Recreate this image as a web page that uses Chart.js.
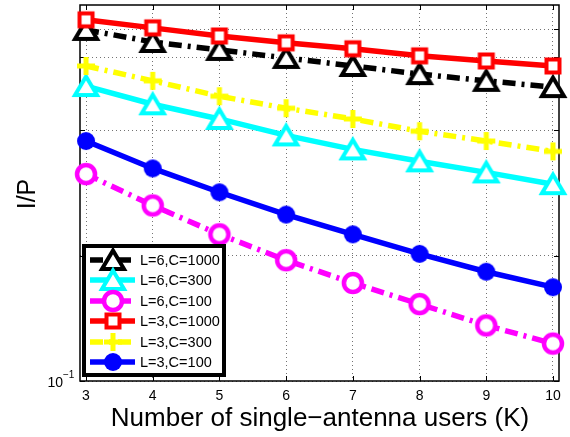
<!DOCTYPE html>
<html>
<head>
<meta charset="utf-8">
<script src="https://cdn.jsdelivr.net/npm/chart.js@4.4.0/dist/chart.umd.min.js"></script>
<style>
  html, body { margin: 0; padding: 0; background: #fff; }
</style>
</head>
<body>
<canvas id="c" width="570" height="437"></canvas>
<script>
// values
const users = [3, 4, 5, 6, 7, 8, 9, 10];
const names = ['L=6,C=1000', 'L=6,C=300', 'L=6,C=100', 'L=3,C=1000', 'L=3,C=300', 'L=3,C=100'];
const l6c1000 = [0.697, 0.652, 0.624, 0.597, 0.571, 0.546, 0.526, 0.508];
const l6c300 = [0.511, 0.462, 0.426, 0.389, 0.360, 0.337, 0.317, 0.297];
const l6c100 = [0.314, 0.264, 0.225, 0.195, 0.172, 0.153, 0.136, 0.123];
const l3c1000 = [0.737, 0.705, 0.674, 0.649, 0.628, 0.604, 0.587, 0.571];
const l3c300 = [0.571, 0.526, 0.483, 0.452, 0.426, 0.398, 0.377, 0.356];
const l3c100 = [0.377, 0.324, 0.284, 0.251, 0.225, 0.202, 0.183, 0.168];
const yTicks = [0.1, 0.2, 0.4, 0.6, 0.7];

const FONT = "'Liberation Sans', Arial, Helvetica, sans-serif";
const dashDot = [13, 6, 3, 6];

// matlab-like markers drawn on small canvases
function marker(kind, color) {
  const c = document.createElement('canvas');
  c.width = 40; c.height = 36;
  const g = c.getContext('2d');
  g.translate(20, 18);
  g.strokeStyle = color;
  g.fillStyle = color;
  g.lineJoin = 'miter';
  g.beginPath();
  if (kind === 'tri') {
    g.lineWidth = 4;
    g.moveTo(0, -9.5); g.lineTo(11, 9); g.lineTo(-11, 9); g.closePath();
    g.fillStyle = '#fff'; g.fill(); g.stroke();
  } else if (kind === 'square') {
    g.lineWidth = 4;
    g.rect(-6.5, -6.5, 13, 13);
    g.fillStyle = '#fff'; g.fill(); g.stroke();
  } else if (kind === 'circle') {
    g.lineWidth = 4.5;
    g.arc(0, 0, 9, 0, Math.PI * 2);
    g.fillStyle = '#fff'; g.fill(); g.stroke();
  } else if (kind === 'dot') {
    g.arc(0, 0, 9, 0, Math.PI * 2);
    g.fill();
  } else if (kind === 'plus') {
    g.lineWidth = 5;
    g.moveTo(-9, 0); g.lineTo(9, 0);
    g.moveTo(0, -9); g.lineTo(0, 9);
    g.stroke();
  }
  return c;
}

const series = [
  { data: l6c1000, color: '#000000', mk: 'tri', dash: dashDot },
  { data: l6c300, color: '#00ffff', mk: 'tri', dash: [] },
  { data: l6c100, color: '#ff00ff', mk: 'circle', dash: dashDot },
  { data: l3c1000, color: '#ff0000', mk: 'square', dash: [] },
  { data: l3c300, color: '#ffff00', mk: 'plus', dash: dashDot },
  { data: l3c100, color: '#0000ff', mk: 'dot', dash: [] }
];
series.forEach(s => s.img = marker(s.mk, s.color));

const datasets = series.map((s, i) => ({
  label: names[i],
  data: users.map((u, j) => ({ x: u, y: s.data[j] })),
  borderColor: s.color,
  borderWidth: 5.5,
  borderDash: s.dash,
  borderCapStyle: 'butt',
  tension: 0,
  fill: false,
  pointStyle: s.img,
  pointRadius: 8,
  clip: false,
  order: series.length - 1 - i
}));

const frame = {
  id: 'frame',
  beforeDatasetsDraw(chart) {
    const { ctx, chartArea: a, scales } = chart;
    ctx.save();
    ctx.strokeStyle = '#000';
    ctx.lineWidth = 1;
    ctx.beginPath();
    users.forEach(u => {
      const x = Math.round(scales.x.getPixelForValue(u)) + 0.5;
      ctx.moveTo(x, a.bottom); ctx.lineTo(x, a.bottom - 5);
      ctx.moveTo(x, a.top); ctx.lineTo(x, a.top + 5);
    });
    yTicks.forEach(v => {
      const y = Math.round(scales.y.getPixelForValue(v)) + 0.5;
      ctx.moveTo(a.left, y); ctx.lineTo(a.left + 5, y);
      ctx.moveTo(a.right, y); ctx.lineTo(a.right - 5, y);
    });
    ctx.stroke();
    ctx.lineWidth = 1.5;
    ctx.strokeRect(a.left, a.top, a.right - a.left, a.bottom - a.top);
    ctx.restore();
  },
  afterDraw(chart) {
    const { ctx, chartArea: a } = chart;
    ctx.save();
    ctx.fillStyle = '#000';
    // y tick label 10^-1
    ctx.font = '14px ' + FONT;
    ctx.textBaseline = 'middle';
    ctx.textAlign = 'right';
    ctx.fillText('10', 63, a.bottom + 2);
    ctx.font = '10px ' + FONT;
    ctx.textAlign = 'left';
    ctx.fillText('\u22121', 63, a.bottom - 6);
    // axis titles
    ctx.font = '26px ' + FONT;
    ctx.textAlign = 'center';
    ctx.textBaseline = 'alphabetic';
    ctx.fillText('Number of single\u2212antenna users (K)', 320, 426);
    ctx.save();
    ctx.translate(35, 194);
    ctx.rotate(-Math.PI / 2);
    ctx.font = '25px ' + FONT;
    ctx.fillText('I/P', 0, 0);
    ctx.restore();

    // legend
    ctx.fillStyle = '#fff';
    ctx.fillRect(84, 246, 140, 129);
    ctx.lineWidth = 4;
    ctx.strokeStyle = '#000';
    ctx.strokeRect(84, 246, 140, 129);
    const rows = [260, 280, 301, 321, 342, 362];
    series.forEach((s, i) => {
      const y = rows[i];
      ctx.beginPath();
      ctx.strokeStyle = s.color;
      ctx.lineWidth = 5.5;
      ctx.setLineDash(s.dash);
      ctx.moveTo(90, y); ctx.lineTo(135, y);
      ctx.stroke();
      ctx.setLineDash([]);
      ctx.drawImage(s.img, 113 - s.img.width / 2, y - s.img.height / 2);
      ctx.fillStyle = '#000';
      ctx.font = '14.5px ' + FONT;
      ctx.textAlign = 'left';
      ctx.textBaseline = 'middle';
      ctx.fillText(names[i], 140, y + 1);
    });
    ctx.restore();
  }
};

new Chart(document.getElementById('c'), {
  type: 'line',
  data: { datasets },
  options: {
    responsive: false,
    animation: false,
    events: [],
    layout: { autoPadding: false, padding: { top: 5, right: 11, left: 0, bottom: 0 } },
    plugins: { legend: { display: false }, tooltip: { enabled: false } },
    scales: {
      x: {
        type: 'linear',
        min: 2.91,
        max: 10.09,
        afterBuildTicks: s => { s.ticks = users.map(v => ({ value: v })); },
        afterFit: s => { s.height = 56; },
        grid: { color: 'rgba(0,0,0,0.55)', drawTicks: false, lineWidth: 1 },
        border: { display: false, dash: [1, 3] },
        ticks: { color: '#000', font: { family: FONT, size: 14 }, padding: 7, maxRotation: 0 }
      },
      y: {
        type: 'logarithmic',
        min: 0.1,
        max: 0.8,
        afterBuildTicks: s => { s.ticks = yTicks.map(v => ({ value: v })); },
        afterFit: s => { s.width = 80; },
        grid: { color: 'rgba(0,0,0,0.55)', drawTicks: false, lineWidth: 1 },
        border: { display: false, dash: [1, 3] },
        ticks: { display: false }
      }
    }
  },
  plugins: [frame]
});
</script>
</body>
</html>
